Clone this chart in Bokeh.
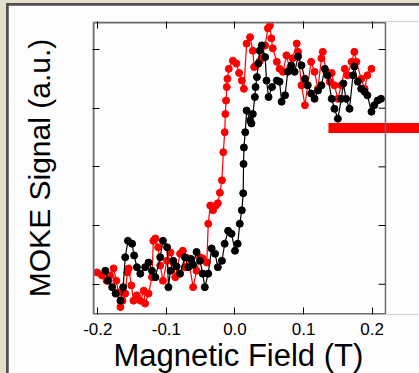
from bokeh.plotting import figure
from bokeh.models import ColumnDataSource, Range1d, LinearAxis, FixedTicker, Title
from bokeh.layouts import column
from bokeh.embed import file_html
from bokeh.resources import INLINE

# ---- data ----
x_ticks = [-0.2, -0.1, 0.0, 0.1, 0.2]
x_tick_labels = ["-0.2", "-0.1", "0.0", "0.1", "0.2"]
y_ticks = [0, 1, 2, 3, 4]

red_field = [-0.201, -0.194, -0.187, -0.182, -0.177, -0.173, -0.170, -0.167, -0.164, -0.160,
             -0.157, -0.155, -0.151, -0.148, -0.143, -0.138, -0.133, -0.131, -0.126, -0.121,
             -0.119, -0.116, -0.112, -0.109, -0.105, -0.099, -0.094, -0.090, -0.087, -0.080,
             -0.076, -0.073, -0.068, -0.061, -0.056, -0.051, -0.047, -0.041, -0.039, -0.036,
             -0.032, -0.028, -0.025, -0.022, -0.019, -0.017, -0.015, -0.014, -0.013, -0.012,
             -0.011, -0.009, -0.003, 0.002, 0.006, 0.010, 0.013, 0.017, 0.022, 0.026,
             0.028, 0.030, 0.036, 0.039, 0.044, 0.048, 0.051, 0.053, 0.055, 0.061,
             0.065, 0.070, 0.075, 0.080, 0.084, 0.090, 0.092, 0.097, 0.102, 0.106,
             0.111, 0.116, 0.121, 0.126, 0.128, 0.133, 0.138, 0.141, 0.145, 0.150,
             0.155, 0.160, 0.164, 0.170, 0.174, 0.177, 0.184, 0.189, 0.193, 0.199]
red_signal = [0.20, 0.15, 0.06, 0.15, 0.27, 0.06, -0.14, -0.39, -0.28, -0.16,
              0.20, 0.27, -0.02, -0.28, -0.19, -0.28, -0.11, -0.33, -0.16, 0.12,
              0.74, 0.78, 0.63, 0.32, 0.06, 0.40, 0.54, 0.37, 0.12, 0.52,
              0.57, 0.29, 0.44, -0.05, 0.23, 0.46, 0.44, 0.37, 1.03, 1.34,
              1.26, 1.34, 1.38, 1.56, 1.77, 2.25, 2.59, 2.90, 3.13, 3.36,
              3.50, 3.67, 3.81, 3.76, 3.60, 3.47, 3.33, 4.10, 4.21, 3.98,
              3.70, 3.72, 3.80, 3.85, 4.07, 4.36, 4.41, 4.19, 4.02, 3.79,
              3.67, 3.62, 3.90, 3.67, 3.85, 4.10, 3.96, 3.39, 3.05, 3.39,
              3.79, 3.62, 3.33, 3.85, 3.96, 3.62, 3.45, 3.60, 3.39, 3.16,
              3.39, 3.67, 3.56, 3.79, 3.96, 3.79, 3.50, 3.33, 3.56, 3.67]

black_field = [-0.189, -0.185, -0.179, -0.174, -0.167, -0.163, -0.160, -0.156, -0.150, -0.147,
               -0.143, -0.138, -0.131, -0.126, -0.121, -0.116, -0.109, -0.105, -0.099, -0.097,
               -0.094, -0.090, -0.085, -0.080, -0.073, -0.068, -0.064, -0.061, -0.056, -0.051,
               -0.047, -0.044, -0.039, -0.034, -0.029, -0.025, -0.019, -0.015, -0.010, -0.005,
               0.000, 0.004, 0.007, 0.010, 0.012, 0.0125, 0.013, 0.015, 0.017, 0.022,
               0.024, 0.026, 0.029, 0.030, 0.032, 0.034, 0.036, 0.039, 0.044, 0.046,
               0.049, 0.054, 0.061, 0.065, 0.068, 0.073, 0.077, 0.082, 0.087, 0.092,
               0.097, 0.102, 0.106, 0.111, 0.116, 0.121, 0.126, 0.131, 0.135, 0.141,
               0.145, 0.150, 0.155, 0.158, 0.162, 0.167, 0.172, 0.174, 0.179, 0.184,
               0.189, 0.193, 0.199, 0.203, 0.208, 0.213]
black_signal = [0.23, 0.06, -0.05, -0.16, -0.28, -0.05, 0.46, 0.74, 0.69, 0.49,
                0.29, 0.18, 0.29, 0.37, 0.23, 0.12, 0.46, 0.74, 0.63, -0.05,
                0.23, 0.40, 0.30, 0.18, 0.46, 0.29, 0.43, 0.33, 0.55, 0.40,
                0.18, -0.05, 0.18, 0.61, 0.52, 0.29, 0.40, 0.69, 0.91, 0.86,
                0.57, 0.69, 1.03, 1.26, 1.55, 2.05, 2.33, 2.59, 2.96, 2.79,
                2.74, 2.90, 3.19, 3.36, 3.53, 3.76, 3.98, 4.07, 3.87, 3.47,
                3.19, 3.36, 3.47, 3.45, 3.11, 3.22, 3.62, 3.73, 3.62, 3.88,
                3.73, 3.50, 3.39, 3.25, 3.16, 3.30, 3.39, 3.67, 3.56, 3.16,
                2.99, 2.82, 3.16, 3.42, 3.16, 2.99, 3.56, 3.71, 3.45, 3.33,
                3.28, 3.22, 2.94, 3.05, 3.13, 3.16]

# plot box limits and the red marker bar (annotation) in data units
box_x = (-0.2058, 0.2194)
box_y = (-0.504, 4.455)
bar_x = (0.1363, 0.35)
bar_y = (2.578, 2.748)

FONT = "Liberation Sans"
BOX_COLOR = "#6a6a6a"
TICK_LEN_X = 7 / 686.0   # 7 px expressed along x

p = figure(width=411, height=368, output_backend="svg", toolbar_location=None,
           x_range=Range1d(-0.2077, 0.2690), y_range=Range1d(-0.516, 4.477),
           min_border_left=84, min_border_right=0, min_border_top=16, min_border_bottom=59)

p.border_fill_color = "#fdfdfd"
p.background_fill_color = "#fdfdfd"
p.outline_line_color = None
p.xgrid.visible = False
p.ygrid.visible = False

# red marker bar reaching out to the right edge
p.quad(left=[bar_x[0]], right=[bar_x[1]], bottom=[bar_y[0]], top=[bar_y[1]],
       fill_color="#ff0000", line_color=None)

red = ColumnDataSource(dict(x=red_field, y=red_signal))
black = ColumnDataSource(dict(x=black_field, y=black_signal))
p.line("x", "y", source=red, color="#ff0000", line_width=1.2)
p.scatter("x", "y", source=red, size=7, color="#ff0000")
p.line("x", "y", source=black, color="#000000", line_width=1.2)
p.scatter("x", "y", source=black, size=7, color="#000000")

# plot box and right-hand ticks
p.quad(left=[box_x[0]], right=[box_x[1]], bottom=[box_y[0]], top=[box_y[1]],
       fill_color=None, line_color=BOX_COLOR, line_width=1.5)
p.segment(x0=[box_x[1]] * len(y_ticks), y0=y_ticks,
          x1=[box_x[1] - TICK_LEN_X] * len(y_ticks), y1=y_ticks,
          line_color="#000000", line_width=1)

def style_axis(ax, show_labels):
    ax.axis_line_color = None
    ax.major_tick_line_color = "#000000"
    ax.major_tick_line_width = 1
    ax.major_tick_in = 7
    ax.major_tick_out = 0
    ax.minor_tick_line_color = None
    if not show_labels:
        ax.major_label_text_color = None
        ax.major_label_standoff = 0

xa = p.xaxis[0]
xa.ticker = FixedTicker(ticks=x_ticks)
xa.major_label_overrides = {t: s for t, s in zip(x_ticks, x_tick_labels)}
style_axis(xa, True)
xa.major_label_text_font = FONT
xa.major_label_text_font_size = "17px"
xa.major_label_text_color = "#000000"
xa.major_label_standoff = 8

# x-axis title, aligned under the plot box (not the wider frame)
xtitle = Title(text="Magnetic Field (T)", align="left", offset=21, standoff=-3,
               text_font=FONT, text_font_size="31px", text_font_style="normal",
               text_color="#000000")
p.add_layout(xtitle, "below")

ya = p.yaxis[0]
ya.ticker = FixedTicker(ticks=y_ticks)
style_axis(ya, False)
ya.major_label_text_font_size = "10px"
ya.axis_label = "MOKE Signal (a.u.)"
ya.axis_label_text_font = FONT
ya.axis_label_text_font_size = "30px"
ya.axis_label_text_font_style = "normal"
ya.axis_label_text_color = "#000000"
ya.axis_label_standoff = 37

top = LinearAxis(ticker=FixedTicker(ticks=x_ticks))
style_axis(top, False)
top.major_label_text_font_size = "10px"
p.add_layout(top, "above")

inner = column(p, styles={"background-color": "#4f4f4f", "padding": "2px 0px 0px 2px"})
page = column(inner, styles={"background-color": "#e2dfca", "padding": "3px 0px 0px 6px"})

open("out.html", "w").write(file_html(page, INLINE))
